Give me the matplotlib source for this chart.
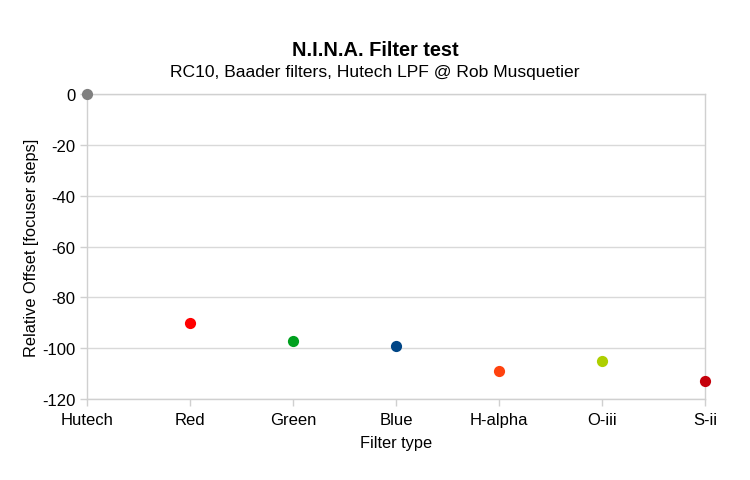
import matplotlib
matplotlib.use("Agg")
import matplotlib.pyplot as plt

categories = ["Hutech", "Red", "Green", "Blue", "H-alpha", "O-iii", "S-ii"]
offsets = [0, -90, -97, -99, -109, -105, -113]
colors = ["#808080", "#ff0000", "#00a01e", "#004586", "#ff420e", "#aecf00", "#c5000b"]
yticks = [0, -20, -40, -60, -80, -100, -120]

plt.rcParams['font.family'] = ['Liberation Sans', 'DejaVu Sans']

fig = plt.figure(figsize=(7.5, 4.81), dpi=100)
ax = fig.add_axes([0.116, 0.168, 0.824, 0.6345])

x = list(range(len(categories)))
for xi, v, c in zip(x, offsets, colors):
    ax.scatter([xi], [v], s=65, color=c, zorder=3, clip_on=False, linewidths=0)

ax.set_xlim(0, len(categories) - 1)
ax.set_ylim(-120, 0)
ax.set_yticks(yticks)
ax.set_yticklabels([str(t) for t in yticks])
ax.set_xticks(x)
ax.set_xticklabels(categories)
ax.grid(axis='y', color='#d9d9d9', linewidth=1)
ax.set_axisbelow(True)
for s in ax.spines.values():
    s.set_color('#d0d0d0')
    s.set_linewidth(1)
ax.tick_params(axis='both', colors='#d0d0d0', labelcolor='#000000', labelsize=12, length=5, width=1)
ax.tick_params(axis='x', pad=4)

ax.set_xlabel("Filter type", fontsize=11.8, labelpad=6)
ax.set_ylabel("Relative Offset [focuser steps]", fontsize=11.8)
ax.yaxis.set_label_coords(-0.078, 0.5)

fig.text(0.5, 1 - 51 / 481, "N.I.N.A. Filter test", ha='center', va='center', fontsize=14.4, fontweight='bold')
fig.text(0.5, 1 - 73 / 481, "RC10, Baader filters, Hutech LPF @ Rob Musquetier", ha='center', va='center', fontsize=12.6)

fig.savefig("out.png", dpi=100)
